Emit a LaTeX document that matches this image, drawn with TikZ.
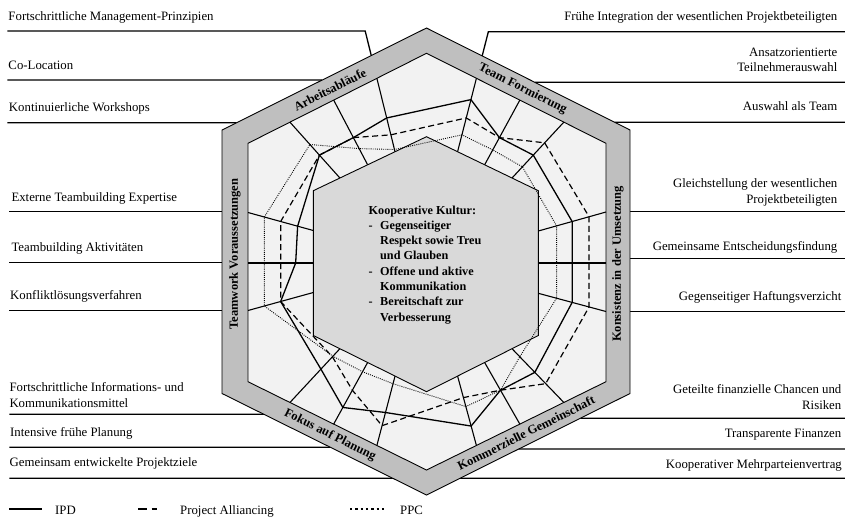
\documentclass[tikz,border=0pt]{standalone}
\usepackage{fontspec}
\setmainfont{Liberation Serif}
\usetikzlibrary{calc}
\definecolor{bandgray}{HTML}{BFBFBF}
\definecolor{fieldgray}{HTML}{F2F2F2}
\definecolor{coregray}{HTML}{D9D9D9}

\begin{document}
\begin{tikzpicture}[x=1pt,y=-1pt,
  leader/.style={line width=1.3pt},
  rim/.style={line width=0.9pt},
  axisline/.style={line width=1.1pt},
  ipd/.style={line width=1.3pt},
  alliance/.style={line width=1.2pt,dash pattern=on 6pt off 3.5pt},
  ppc/.style={line width=0.9pt,dash pattern=on 0.9pt off 1.2pt},
  lbl/.style={inner sep=0pt,font=\fontsize{12.8}{15.6}\selectfont},
  bandlbl/.style={inner sep=0pt,font=\fontsize{12.5}{15}\selectfont\bfseries},
]
\useasboundingbox (0,0) rectangle (845,517);

% ---------- hexagon corners ----------
% outer band
\coordinate (ot)  at (426.5,28);
\coordinate (otr) at (630,130);
\coordinate (obr) at (630,393.5);
\coordinate (ob)  at (426.5,495);
\coordinate (obl) at (222,393.5);
\coordinate (otl) at (222,130);
% light rating field
\coordinate (lt)  at (426.5,53.3);
\coordinate (ltr) at (606,143.3);
\coordinate (lbr) at (606,381.7);
\coordinate (lb)  at (426.5,470);
\coordinate (lbl) at (248,381.7);
\coordinate (ltl) at (248,143.3);
% core
\coordinate (ct)  at (426.5,136.7);
\coordinate (ctr) at (538.3,190.7);
\coordinate (cbr) at (538.3,335.5);
\coordinate (cb)  at (426.5,391.7);
\coordinate (cbl) at (313.3,335.5);
\coordinate (ctl) at (313.3,190.7);

% ---------- rating axes (outer end -o, inner end -i) ----------
\foreach \n/\f in {1/0.235,2/0.48,3/0.722}{
  \coordinate (A\n-o)  at ($(ltl)!\f!(lt)$);
  \coordinate (A\n-i)  at ($(ctl)!\f!(ct)$);
  \coordinate (BR\n-o) at ($(lbr)!\f!(lb)$);
  \coordinate (BR\n-i) at ($(cbr)!\f!(cb)$);
}
\foreach \n/\f in {1/0.722,2/0.48,3/0.235}{
  \coordinate (T\n-o)  at ($(ltr)!\f!(lt)$);
  \coordinate (T\n-i)  at ($(ctr)!\f!(ct)$);
  \coordinate (BL\n-o) at ($(lbl)!\f!(lb)$);
  \coordinate (BL\n-i) at ($(cbl)!\f!(cb)$);
}
\coordinate (L1-o) at (248,310.5);   \coordinate (L1-i) at (313.3,292.5);
\coordinate (L2-o) at (248,263);     \coordinate (L2-i) at (313.3,263);
\coordinate (L3-o) at (248,212.5);   \coordinate (L3-i) at (313.3,230.5);
\coordinate (R1-o) at (606,212);     \coordinate (R1-i) at (538.3,231);
\coordinate (R2-o) at (606,263);     \coordinate (R2-i) at (538.3,263);
\coordinate (R3-o) at (606,311.5);   \coordinate (R3-i) at (538.3,293.3);

% ---------- leader lines, ending at the outer hexagon ----------
\coordinate (k-fmp) at (intersection of A3-o--A3-i and 0,31--100,31);
\coordinate (k-fi)  at (intersection of T1-o--T1-i and 0,31.7--100,31.7);
\coordinate (e-fmp) at (intersection of A3-o--A3-i and otl--ot);
\coordinate (e-fi)  at (intersection of T1-o--T1-i and otr--ot);
\draw[leader] (7.3,31) -- (k-fmp) -- (e-fmp);
\draw[leader] (845,31.7) -- (k-fi) -- (e-fi);
\foreach \y/\x in {80/7.3,122.7/7.3}
  \draw[leader] (\x,\y) -- (intersection of otl--ot and 0,\y--100,\y);
\foreach \y in {211.7,262.3,310.7}
  \draw[leader] (9.3,\y) -- (222,\y);
\foreach \y in {414.3,447.3,478.3}
  \draw[leader] (9.3,\y) -- (intersection of obl--ob and 0,\y--100,\y);
\foreach \y in {82.3,122.3}
  \draw[leader] (845,\y) -- (intersection of otr--ot and 0,\y--100,\y);
\foreach \y in {211.7,258.3,311.7}
  \draw[leader] (845,\y) -- (630,\y);
\foreach \y in {418.3,449,478.3}
  \draw[leader] (845,\y) -- (intersection of obr--ob and 0,\y--100,\y);

% ---------- hexagons and axes ----------
\filldraw[rim,fill=bandgray] (otl) -- (ot) -- (otr) -- (obr) -- (ob) -- (obl) -- cycle;
\filldraw[rim,fill=fieldgray] (ltl) -- (lt) -- (ltr) -- (lbr) -- (lb) -- (lbl) -- cycle;
\foreach \ax in {A1,A2,A3,T1,T2,T3,R1,R2,R3,BR1,BR2,BR3,BL1,BL2,BL3,L1,L2,L3}
  \draw[axisline] (\ax-o) -- (\ax-i);
\filldraw[rim,fill=coregray] (ctl) -- (ct) -- (ctr) -- (cbr) -- (cb) -- (cbl) -- cycle;

% ---------- rating profiles ----------
\foreach \ax/\f in {A1/.59,A2/.58,A3/.54,T1/.29,T2/.58,T3/.59,R1/.5,R2/.5,R3/.5,
                    BR1/.56,BR2/.55,BR3/.28,BL1/.475,BL2/.27,BL3/.62,L1/.5,L2/.73,L3/.76}
  \coordinate (ipd-\ax) at ($(\ax-o)!\f!(\ax-i)$);
\foreach \ax/\f in {A1/.59,A2/.58,A3/.77,T1/.54,T2/.58,T3/.37,R1/.25,R2/.25,R3/.25,
                    BR1/.35,BR2/.55,BR3/.69,BL1/.285,BL2/.55,BL3/.85,L1/.5,L2/.5,L3/.5}
  \coordinate (pa-\ax) at ($(\ax-o)!\f!(\ax-i)$);
\foreach \ax/\f in {A1/.4,A2/.75,A3/.97,T1/.77,T2/.77,T3/.8,R1/.73,R2/.73,R3/.73,
                    BR1/.85,BR2/.55,BR3/.56,BL1/.89,BL2/.85,BL3/.86,L1/.25,L2/.25,L3/.25}
  \coordinate (ppc-\ax) at ($(\ax-o)!\f!(\ax-i)$);

\draw[ppc] (ppc-A1) -- (ppc-A2) -- (ppc-A3) -- (ppc-T1) -- (ppc-T2) -- (ppc-T3)
  -- (ppc-R1) -- (ppc-R2) -- (ppc-R3) -- (ppc-BR1) -- (ppc-BR2) -- (ppc-BR3)
  -- (ppc-BL1) -- (ppc-BL2) -- (ppc-BL3) -- (ppc-L1) -- (ppc-L2) -- (ppc-L3) -- cycle;
\draw[alliance] (pa-A1) -- (pa-A2) -- (pa-A3) -- (pa-T1) -- (pa-T2) -- (pa-T3)
  -- (pa-R1) -- (pa-R2) -- (pa-R3) -- (pa-BR1) -- (pa-BR2) -- (pa-BR3)
  -- (pa-BL1) -- (pa-BL2) -- (pa-BL3) -- (pa-L1) -- (pa-L2) -- (pa-L3) -- cycle;
\draw[ipd] (ipd-A1) -- (ipd-A2) -- (ipd-A3) -- (ipd-T1) -- (ipd-T2) -- (ipd-T3)
  -- (ipd-R1) -- (ipd-R2) -- (ipd-R3) -- (ipd-BR1) -- (ipd-BR2) -- (ipd-BR3)
  -- (ipd-BL1) -- (ipd-BL2) -- (ipd-BL3) -- (ipd-L1) -- (ipd-L2) -- (ipd-L3) -- cycle;

% ---------- band titles ----------
\node[bandlbl,rotate=26.6]  (b-arb)  at (330,89.5) {Arbeitsabläufe};
\node[bandlbl,rotate=-26.6] (b-team) at (522.5,89) {Team Formierung};
\node[bandlbl,rotate=90]    (b-tv)   at (235,254)  {Teamwork Voraussetzungen};
\node[bandlbl,rotate=90]    (b-kons) at (618,264)  {Konsistenz in der Umsetzung};
\node[bandlbl,rotate=-26.6] (b-fok)  at (330,435)  {Fokus auf Planung};
\node[bandlbl,rotate=26.6]  (b-komm) at (526,433)  {Kommerzielle Gemeinschaft};

% ---------- core text ----------
\node[anchor=base west,inner sep=0pt,font=\fontsize{12.2}{15.3}\selectfont\bfseries] (core-txt) at (368.5,214)
  {\begin{tabular}[t]{@{}l@{}l@{}}
   \multicolumn{2}{@{}l@{}}{Kooperative Kultur:}\\
   \makebox[11.5pt][l]{-} & Gegenseitiger\\
    & Respekt sowie Treu\\
    & und Glauben\\
   - & Offene und aktive\\
    & Kommunikation\\
   - & Bereitschaft zur\\
    & Verbesserung
   \end{tabular}};

% ---------- criteria, left (two-line texts: base = last line) ----------
\node[lbl,anchor=base west] (l-fmp) at (8.3,20)    {Fortschrittliche Management-Prinzipien};
\node[lbl,anchor=base west] (l-co)  at (8.3,69)    {Co-Location};
\node[lbl,anchor=base west] (l-kw)  at (8.8,111.7) {Kontinuierliche Workshops};
\node[lbl,anchor=base west] (l-et)  at (11.3,201)  {Externe Teambuilding Expertise};
\node[lbl,anchor=base west] (l-ta)  at (11.3,251)  {Teambuilding Aktivitäten};
\node[lbl,anchor=base west] (l-kv)  at (10,299.5)  {Konfliktlösungsverfahren};
\node[lbl,anchor=base west,align=left] (l-ik) at (9.3,407.3) {Fortschrittliche Informations- und\\Kommunikationsmittel};
\node[lbl,anchor=base west] (l-ip)  at (10,436)    {Intensive frühe Planung};
\node[lbl,anchor=base west] (l-gp)  at (9.5,466.7) {Gemeinsam entwickelte Projektziele};

% ---------- criteria, right ----------
\node[lbl,anchor=base east] (r-fi)  at (837.5,20)    {Frühe Integration der wesentlichen Projektbeteiligten};
\node[lbl,anchor=base east,align=right] (r-at) at (837.5,71.7) {Ansatzorientierte\\Teilnehmerauswahl};
\node[lbl,anchor=base east] (r-aat) at (837.5,110.7) {Auswahl als Team};
\node[lbl,anchor=base east,align=right] (r-gs) at (837.5,203.5) {Gleichstellung der wesentlichen\\Projektbeteiligten};
\node[lbl,anchor=base east] (r-ge)  at (837.5,250.5) {Gemeinsame Entscheidungsfindung};
\node[lbl,anchor=base east] (r-gh)  at (841.5,300)   {Gegenseitiger Haftungsverzicht};
\node[lbl,anchor=base east,align=right] (r-gf) at (841.5,409) {Geteilte finanzielle Chancen und\\Risiken};
\node[lbl,anchor=base east] (r-tf)  at (841.5,437.3) {Transparente Finanzen};
\node[lbl,anchor=base east] (r-km)  at (842,468.3)   {Kooperativer Mehrparteienvertrag};

% ---------- legend ----------
\draw[line width=2pt] (9.3,509) -- (41.7,509);
\node[lbl,anchor=base west] (leg-ipd) at (55,514) {IPD};
\draw[line width=2pt,dash pattern=on 9pt off 4.4pt] (138.3,509) -- (157,509);
\node[lbl,anchor=base west] (leg-pa) at (180,514) {Project Alliancing};
\draw[line width=2pt,dash pattern=on 2.4pt off 2.9pt] (350,509) -- (387,509);
\node[lbl,anchor=base west] (leg-ppc) at (400,514) {PPC};
\end{tikzpicture}
\end{document}
